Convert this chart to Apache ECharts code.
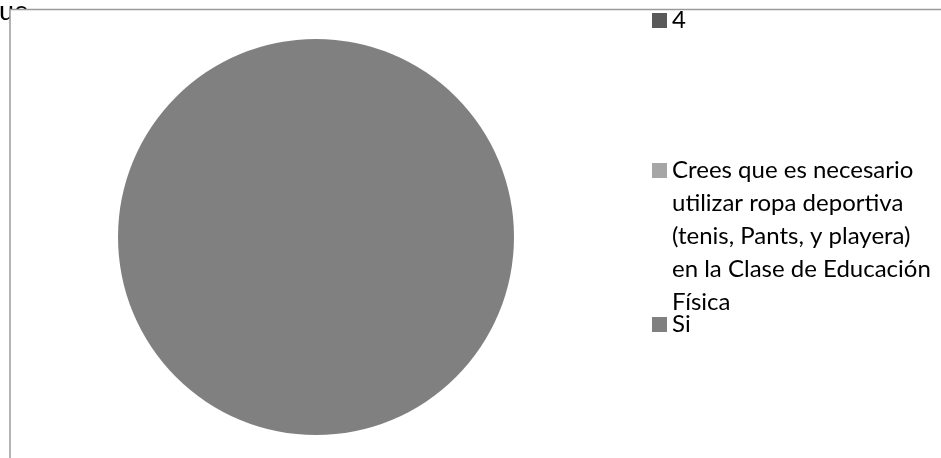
<!DOCTYPE html>
<html>
<head>
<meta charset="utf-8">
<script src="https://cdn.jsdelivr.net/npm/echarts@6/dist/echarts.min.js"></script>
<style>
  html, body { margin: 0; padding: 0; background: #fff; }
  #chart { width: 941px; height: 458px; }
</style>
</head>
<body>
<div id="chart"></div>
<script>
// Category names and values of the pie
const categories = [
  '4',
  'Crees que es necesario utilizar ropa deportiva (tenis, Pants, y playera) en la Clase de Educación Física',
  'Si'
];
const values = [0, 0, 4];
const sliceColors = ['#595959', '#a6a6a6', '#808080'];
// Wrapped legend text for each category
const legendLines = [
  ['4'],
  ['Crees que es necesario', 'utilizar ropa deportiva', '(tenis, Pants, y playera)', 'en la Clase de Educación', 'Física'],
  ['Si']
];
const titleText = 'ue';

const FONT = 'Lato';
const FS = 24;
const LH = 33;
const ICON = 15;
const legendTops = [13, 163, 317];

const chart = echarts.init(document.getElementById('chart'), null, { renderer: 'canvas' });

const legends = categories.map((name, i) => {
  const n = legendLines[i].length;
  const boxH = (2 * n - 1) * LH;
  // the text block is centred on the icon, so blank lines are put in front
  // to keep the first line level with the icon
  const boxTopRel = ICON / 2 - boxH / 2;
  const lines = [];
  for (let k = 0; k < n - 1; k++) lines.push('{t| }');
  legendLines[i].forEach(s => lines.push('{t|' + s + '}'));
  return {
    data: [name],
    orient: 'vertical',
    left: 652,
    top: legendTops[i] + boxTopRel,
    padding: 0,
    icon: 'rect',
    itemWidth: ICON,
    itemHeight: ICON,
    selectedMode: false,
    formatter: () => lines.join('\n'),
    textStyle: {
      fontFamily: FONT,
      fontSize: FS,
      color: '#000',
      lineHeight: LH,
      rich: {
        t: { fontFamily: FONT, fontSize: FS, color: '#000', lineHeight: LH }
      }
    }
  };
});

chart.setOption({
  animation: false,
  title: {
    text: titleText,
    left: -1,
    top: -2,
    padding: 0,
    z: 0,
    textStyle: { fontFamily: FONT, fontSize: 27, fontWeight: 'normal', color: '#000' }
  },
  graphic: [{
    type: 'rect',
    z: 1,
    shape: { x: 10, y: 9.5, width: 1000, height: 1000 },
    style: { fill: '#fff', stroke: '#9a9a9a', lineWidth: 1.5 }
  }],
  legend: legends,
  series: [{
    type: 'pie',
    z: 2,
    center: [316, 237],
    radius: 198,
    silent: true,
    label: { show: false },
    labelLine: { show: false },
    emphasis: { disabled: true },
    itemStyle: { borderWidth: 0 },
    data: categories.map((name, i) => ({
      name: name,
      value: values[i],
      itemStyle: { color: sliceColors[i] }
    }))
  }]
});
</script>
</body>
</html>
